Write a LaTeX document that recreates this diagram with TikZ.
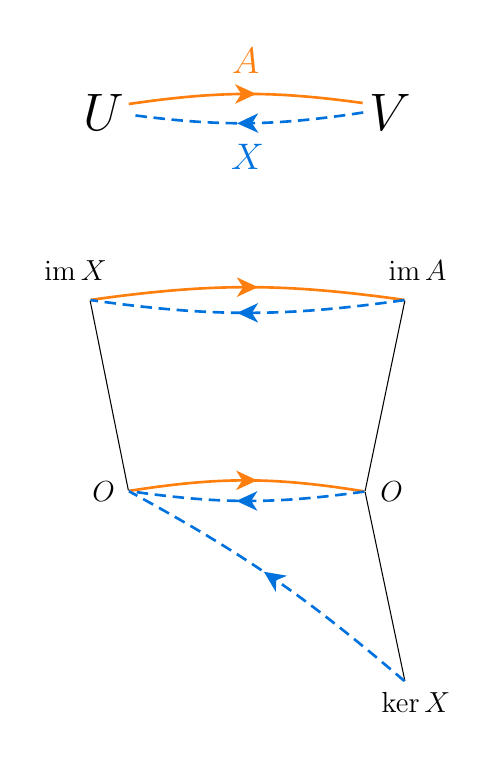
\RequirePackage{fix-cm}
\documentclass[tikz,border=0pt]{standalone}
\usepackage{amsmath}
\usetikzlibrary{arrows.meta,decorations.markings}
\definecolor{aorange}{RGB}{255,127,14}
\definecolor{xblue}{RGB}{0,114,222}

\begin{document}
\begin{tikzpicture}[line width=0.6pt]
\tikzstyle{mid}=[postaction={decorate},decoration={markings,mark=at position 0.5 with {\arrow[xshift=6pt]{Stealth[length=12pt,width=11pt,inset=3.5pt]}}}]
\tikzstyle{amap}=[aorange,line width=1.5pt,mid]
\tikzstyle{xmap}=[xblue,line width=1.5pt,dash pattern=on 6.5pt off 3.8pt,mid]
\tikzstyle{big}=[font=\fontsize{30}{36}\selectfont,inner sep=0pt]
\tikzstyle{top}=[font=\fontsize{21}{25}\selectfont,inner sep=0pt]
\tikzstyle{lbl}=[font=\fontsize{16.5}{20}\selectfont]
\tikzstyle{pt}=[inner sep=0pt,minimum size=0pt]
\useasboundingbox (0,0) rectangle (10,-15.18);

\node[big](U) at (2.08,-2.24) {$U$};
\node[big](V) at (7.81,-2.24) {$V$};

\draw[amap] ([xshift=0.08cm,yshift=0.16cm]U.east) to[bend left=8] node[above=0.38cm,top](A) {$A$} ([xshift=-0.13cm,yshift=0.18cm]V.west);
\draw[xmap] ([xshift=-0.12cm,yshift=-0.01cm]V.west) to[bend left=8] node[below=0.4cm,top](X) {$X$} ([xshift=0.14cm,yshift=-0.06cm]U.east);

\node[pt](imX) at (1.8,-6) {};
\node[pt](imA) at (8.1,-6) {};
\node[pt](OL) at (2.57,-9.82) {};
\node[pt](OR) at (7.3,-9.83) {};
\node[pt](K) at (8.1,-13.63) {};

\node[lbl](imXlabel) at (1.51,-5.42) {$\operatorname{im}X$};
\node[lbl](imAlabel) at (8.35,-5.42) {$\operatorname{im}A$};
\node[lbl](OLlabel) at (2.07,-9.84) {$O$};
\node[lbl](ORlabel) at (7.83,-9.84) {$O$};
\node[lbl](Klabel) at (8.32,-14.05) {$\ker X$};

\draw (imX) -- (OL);
\draw (imA) -- (OR);
\draw (OR) -- (K);

\draw[amap] (imX) to[bend left=8] (imA);
\draw[xmap] (imA) to[bend left=8] (imX);
\draw[amap] (OL) to[bend left=9] (OR);
\draw[xmap] (OR) to[bend left=8] (OL);
\draw[xmap] (K) to[bend right=6] (OL);
\end{tikzpicture}
\end{document}
